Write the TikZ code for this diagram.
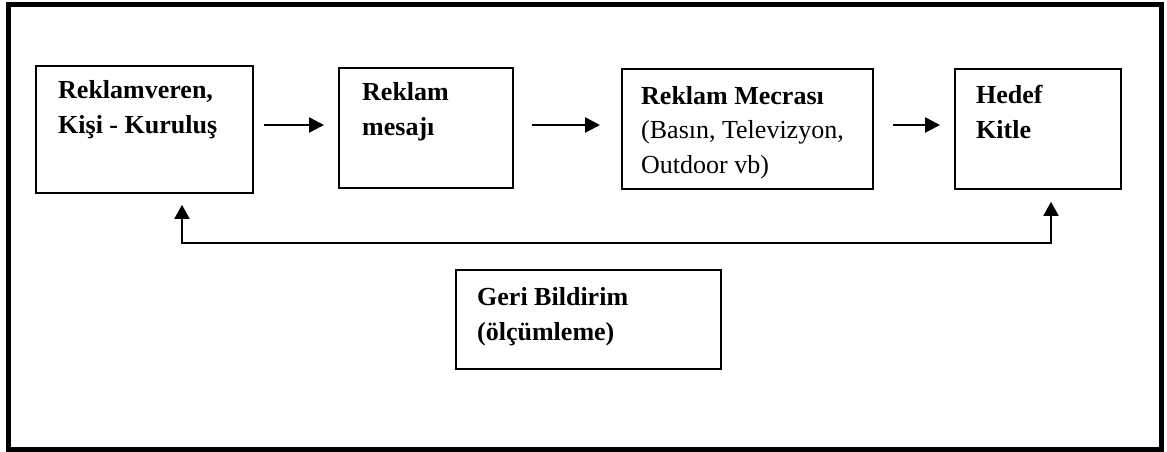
\documentclass[tikz,border=0pt]{standalone}
\usepackage{fontspec}
\setmainfont{Liberation Serif}
\usetikzlibrary{arrows.meta}
\begin{document}
\begin{tikzpicture}[x=1pt,y=-1pt,
  frame/.style={draw,line width=5pt},
  box/.style={draw,line width=1.8pt,rectangle,inner sep=0pt,anchor=north west},
  txt/.style={anchor=base west,inner sep=0pt,align=left,font=\fontsize{26}{34.5}\selectfont\bfseries},
  flow/.style={line width=2.6pt,-{Triangle[length=15pt,width=15pt]}},
  fb/.style={line width=1.8pt,{Triangle[length=14pt,width=15pt]}-{Triangle[length=14pt,width=15pt]}}
]
\useasboundingbox (0,0) rectangle (1167,451);
\draw[frame] (8.5,4.5) rectangle (1161,449);
% boxes
\node[box,minimum width=217pt,minimum height=127pt] (b1) at (35,65) {};
\node[box,minimum width=174pt,minimum height=120pt] (b2) at (338,67) {};
\node[box,minimum width=251pt,minimum height=120pt] (b3) at (621,68) {};
\node[box,minimum width=166pt,minimum height=120pt] (b4) at (954,68) {};
\node[box,minimum width=265pt,minimum height=99pt] (b5) at (455,269) {};
% texts (base = baseline of last line)
\node[txt] (t1) at (58,133) {Reklamveren,\\Kişi - Kuruluş};
\node[txt] (t2) at (362,135) {Reklam\\mesajı};
\node[txt] (t3) at (641,173) {Reklam Mecrası\\\mdseries(Basın, Televizyon,\\\mdseries Outdoor vb)};
\node[txt] (t4) at (976,138) {Hedef\\Kitle};
\node[txt] (t5) at (477,340) {Geri Bildirim\\(ölçümleme)};
% flow arrows
\draw[flow,shorten <=10pt,shorten >=14pt] (b1.east |- 0,125) -- (b2.west |- 0,125);
\draw[flow,shorten <=18pt,shorten >=21pt] (b2.east |- 0,125) -- (b3.west |- 0,125);
\draw[flow,shorten <=19pt,shorten >=14pt] (b3.east |- 0,125) -- (b4.west |- 0,125);
% feedback
\coordinate (fbL) at (182,243);
\coordinate (fbR) at (1051,243);
\draw[fb,shorten <=11pt,shorten >=12pt] (b1.south -| fbL) -- (fbL) -- (fbR) -- (b4.south -| fbR);
\end{tikzpicture}
\end{document}
